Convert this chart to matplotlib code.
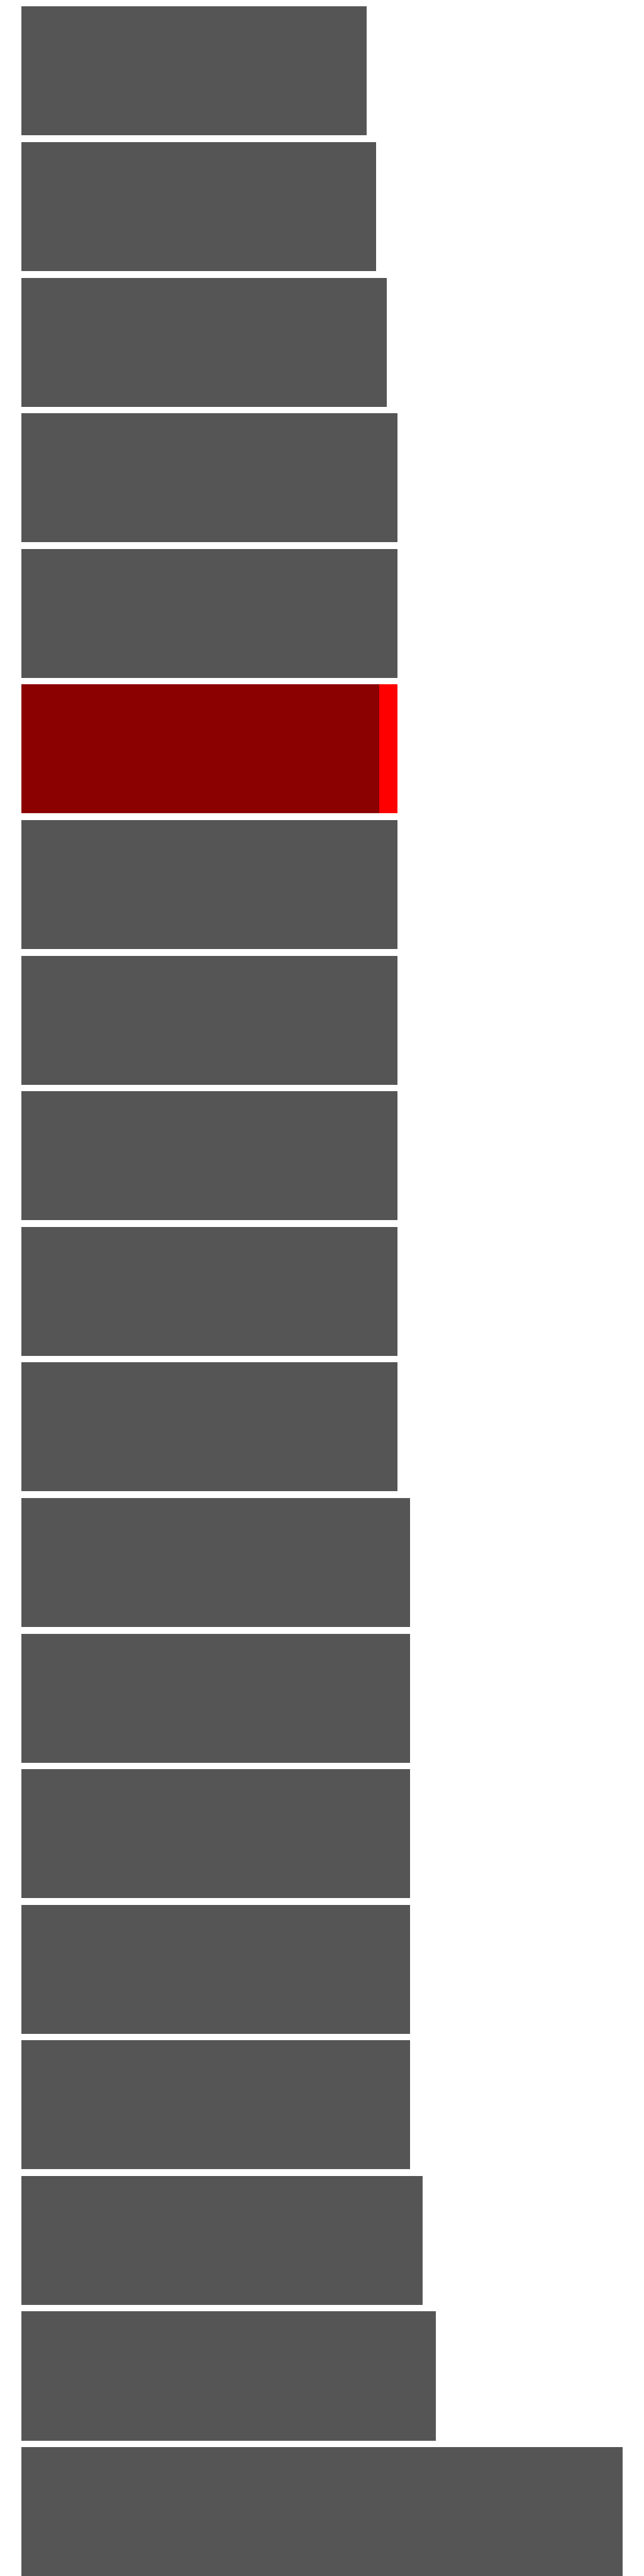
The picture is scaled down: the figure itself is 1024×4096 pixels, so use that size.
import matplotlib
matplotlib.use("Agg")
import matplotlib.pyplot as plt

# bar lengths (longest bar = 100)
values = [57.4, 59.0, 60.8, 62.6, 62.6, 62.6, 62.6, 62.6, 62.6, 62.6, 62.6,
          64.6, 64.6, 64.6, 64.6, 64.6, 66.7, 68.9, 100.0]
highlight = 5          # index of the highlighted bar
highlight_base = 59.5  # dark red part of the highlighted bar

gray = "#555555"
h = 0.951
pitch_px = 215.6  # distance between bar centres, in pixels
top_px = 10.3

fig = plt.figure(figsize=(10.24, 40.96), dpi=100)
ax = fig.add_axes([34 / 1024, 0, 956 / 1024, (4096 - top_px) / 4096])

ys = list(range(len(values)))
colors = [gray] * len(values)
colors[highlight] = "#ff0000"
ax.barh(ys, values, height=h, color=colors, edgecolor="none")
ax.barh(highlight, highlight_base, height=h, color="#8b0000", edgecolor="none")

ax.set_xlim(0, max(values))
ax.set_ylim(-h / 2 + (4096 - top_px) / pitch_px, -h / 2)
ax.axis("off")

fig.savefig("out.png", dpi=100)
